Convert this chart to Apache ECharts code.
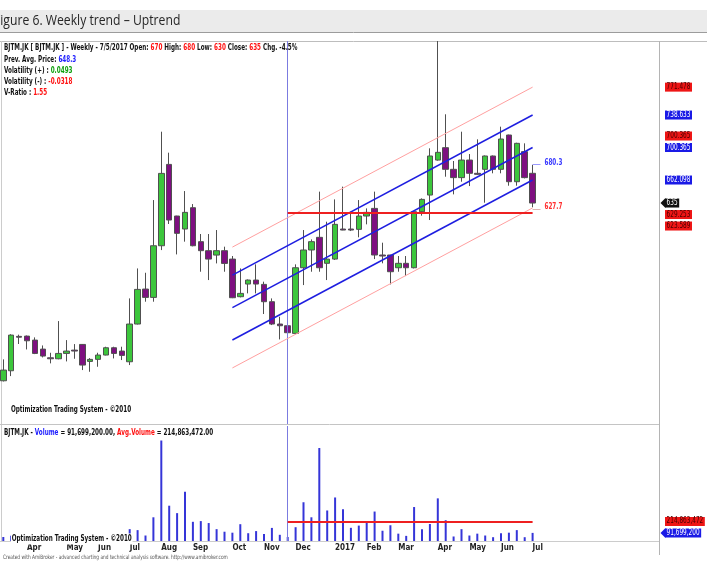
<!DOCTYPE html>
<html><head><meta charset="utf-8">
<script src="https://cdn.jsdelivr.net/npm/echarts@6/dist/echarts.min.js"></script>
<style>html,body{margin:0;padding:0;background:#fff;}#c{width:707px;height:561px;}</style>
</head><body><div id="c"></div>
<script>
// ---------------- data ----------------
const dates = ['2016-03-11','2016-03-18','2016-03-24','2016-04-01','2016-04-08','2016-04-15','2016-04-22','2016-04-29','2016-05-04','2016-05-13','2016-05-20','2016-05-27','2016-06-03','2016-06-10','2016-06-17','2016-06-24','2016-07-01','2016-07-15','2016-07-22','2016-07-29','2016-08-05','2016-08-12','2016-08-19','2016-08-26','2016-09-02','2016-09-09','2016-09-16','2016-09-23','2016-09-30','2016-10-07','2016-10-14','2016-10-21','2016-10-28','2016-11-04','2016-11-11','2016-11-18','2016-11-25','2016-12-02','2016-12-09','2016-12-16','2016-12-23','2016-12-30','2017-01-06','2017-01-13','2017-01-20','2017-01-27','2017-02-03','2017-02-10','2017-02-17','2017-02-24','2017-03-03','2017-03-10','2017-03-17','2017-03-24','2017-03-31','2017-04-07','2017-04-13','2017-04-21','2017-04-28','2017-05-05','2017-05-12','2017-05-19','2017-05-26','2017-06-02','2017-06-09','2017-06-16','2017-06-23','2017-07-05'];
const opens  = [425.7,437.5,478,478.3,473.6,463.0,452.8,451.6,457.9,461.8,468.5,448.5,450.9,456.0,464.6,460.7,448.1,492.5,533.7,523.9,584.7,680.5,619.7,604.4,629.5,589.5,578.9,573.7,578.9,569.0,524.7,539.6,544.3,539.2,518.8,492.5,490.5,481.5,558.8,579.7,594.6,564.0,569.0,604.4,604.4,604.0,619.7,628.7,573.8,573.8,558.8,564.0,558.8,624.8,644.4,685.6,700.2,674.7,664.9,685.6,670.0,674.7,690.4,674.7,715.1,660.1,695.5,670];
const closes = [438.3,479.5,477,472.8,457.9,454.8,451.6,457.9,460.7,460.7,444.2,450.9,456.0,464.6,457.9,455.6,492.5,533.3,523.9,584.7,669.9,615.0,599.3,624.0,584.7,578.9,569.0,578.9,563.9,523.5,528.6,544.3,539.6,518.8,492.5,490.5,482.3,558.8,579.7,589.5,558.8,569.0,609.9,603.2,603.2,619.7,624.0,573.8,572.6,554.1,564.0,558.8,624.8,639.3,690.4,694.7,674.7,664.9,685.6,670.0,668.8,690.4,674.7,710.4,660.1,705.3,664.9,635];
const lows   = [424.9,431.2,469,462.6,457.1,453.2,446.2,451,448.5,451.6,438.3,436.3,442.2,455.6,452.0,450.1,444.2,492,518.8,518.8,579.6,610.3,574.5,589.5,584,554.1,544.3,563.9,554.1,523,523.9,528.6,528.6,504.3,491.3,474.4,473.6,480.7,538.4,554.1,554.1,544.3,567.9,603,602,594.6,609.9,569.0,564.0,539.2,554.1,549.0,558,620.1,615.0,684.9,666.0,645.2,660.1,655.0,668,635.4,670.0,670.0,655.4,655.4,664,630];
const highs  = [450.9,480.5,480,479,476.8,467.3,458.7,496.0,473.6,468.9,469,452.4,458.7,465.8,465.8,465.8,522.7,558.0,552.9,638.5,719.0,694.3,620,649.1,633.8,598.5,598.5,603.2,583.6,572.6,558.0,545,562.8,542.4,522.7,501.1,491,562.8,603.2,592.2,648.4,613.0,639.3,654.3,624.8,638.5,628.7,648.4,588.3,574,572.6,572.6,625,640.5,699.4,825.8,739.5,684.5,719.0,692.7,710.0,691,691,724.9,715.5,706,705.3,680];
// weekly volume, millions of shares
const volumeM = [45,60,35,40,55,30,25,70,40,30,65,35,40,45,30,35,134,123,62,268,1136,399,315,558,217,225,203,134,105,94,190,88,112,80,148,70,45,156,438,268,1051,345,492,359,149,174,221,333,116,178,83,58,384,134,192,482,235,51,134,62,83,62,43,87,94,123,43,91.6992];
const avgVolume = 214863472;
const avgPrice = 623.589;
const rangeStart = 36;           // start of the selected range (vertical line)
const channelStart = 29;         // first bar of the regression channel
const lastBar = dates.length - 1;
// regression channel [value at channelStart, value at lastBar]
const pinkUpper = [583.1, 771.478];
const blueUpper = [550.2, 738.633];
const midLine   = [511.9, 700.365];
const blueLower = [473.7, 662.098];
const pinkLower = [440.8, 629.253];
const levelUp = 680.3, levelDown = 627.7;
const prevAvgPrice = 648.3, volPlus = '0.0493', volMinus = '-0.0318', vRatio = '1.55';
const monthNames = ['Jan','Feb','Mar','Apr','May','Jun','Jul','Aug','Sep','Oct','Nov','Dec'];
const padCount = 16;

// ---------------- derived ----------------
const cats = dates.concat(Array.from({length: padCount}, (_, i) => 'pad' + i));
const monthLabel = cats.map((d, i) => {
  if (i === 0 || i >= dates.length) return '';
  const m = +d.slice(5, 7), pm = +dates[i - 1].slice(5, 7);
  if (m === pm) return '';
  return m === 1 ? d.slice(0, 4) : monthNames[m - 1];
});
const candleData = opens.map((o, i) => [o, closes[i], lows[i], highs[i]]);
const volData = volumeM.map(v => v * 1e6);
const NARROW = '"Liberation Sans Narrow","DejaVu Sans Condensed","Liberation Sans",sans-serif';
const fmtInt = v => Math.round(v).toLocaleString('en-US');
const fmt2 = v => v.toLocaleString('en-US', {minimumFractionDigits: 2, maximumFractionDigits: 2});
const lastDate = dates[lastBar];
const lastDateTxt = (+lastDate.slice(5,7)) + '/' + (+lastDate.slice(8,10)) + '/' + lastDate.slice(0,4);
const chg = ((closes[lastBar] - closes[lastBar - 1]) / closes[lastBar - 1] * 100).toFixed(1);
const SX = 0.74; // horizontal squeeze to imitate a narrow typeface

const labelStyles = {
  red:  {bg: '#ee1515', fg: '#4a0000'},
  blue: {bg: '#1a1ae6', fg: '#ffffff'},
  tag:  {bg: '#111111', fg: '#ffffff', arrow: true},
  blueTag: {bg: '#1a1ae6', fg: '#ffffff', arrow: true}
};
const priceLabels = [
  {v: pinkUpper[1], type: 'red',  text: pinkUpper[1].toFixed(3)},
  {v: blueUpper[1], type: 'blue', text: blueUpper[1].toFixed(3)},
  {v: midLine[1],   type: 'blue', text: midLine[1].toFixed(3)},
  {v: midLine[1],   type: 'red',  text: midLine[1].toFixed(3)},
  {v: blueLower[1], type: 'blue', text: blueLower[1].toFixed(3)},
  {v: closes[lastBar], type: 'tag', text: String(closes[lastBar])},
  {v: pinkLower[1], type: 'red',  text: pinkLower[1].toFixed(3)},
  {v: avgPrice,     type: 'red',  text: avgPrice.toFixed(3)}
];
const volLabels = [
  {v: avgVolume, type: 'red', text: fmtInt(avgVolume)},
  {v: volData[lastBar], type: 'blueTag', text: fmtInt(volData[lastBar])}
];
const levelLabels = [
  {v: levelUp, color: '#3a3aff', text: String(levelUp)},
  {v: levelDown, color: '#ff3030', text: String(levelDown)}
];

function layoutLabels(items, api) {
  const H = 11.5;
  const nat = items.map(it => api.coord([lastBar, it.v])[1]);
  const ys = nat.slice();
  const ai = items.findIndex(it => it.type === 'tag' || it.type === 'blueTag');
  const av = items[ai].v;
  const above = items.map((it, i) => i).filter(i => i !== ai && items[i].v >= av)
    .sort((a, b) => items[a].v - items[b].v || a - b);
  const below = items.map((it, i) => i).filter(i => i !== ai && items[i].v < av)
    .sort((a, b) => items[b].v - items[a].v || a - b);
  let prev = nat[ai];
  above.forEach(i => { ys[i] = Math.min(nat[i], prev - H); prev = ys[i]; });
  prev = nat[ai];
  below.forEach(i => { ys[i] = Math.max(nat[i], prev + H); prev = ys[i]; });
  return ys;
}
function labelRenderer(items) {
  return function (params, api) {
    const ys = layoutLabels(items, api);
    const it = items[params.dataIndex];
    const st = labelStyles[it.type];
    const y = ys[params.dataIndex];
    const x0 = params.coordSys.x + params.coordSys.width;
    const ch = [];
    if (st.arrow) ch.push({type: 'polygon', shape: {points: [[x0 + 1.5, y], [x0 + 6.5, y - 5], [x0 + 6.5, y + 5]]}, style: {fill: st.bg}});
    ch.push({type: 'text', x: x0 + 6, y: y, scaleX: 0.8, style: {text: it.text, x: 0, y: 0, fill: st.fg, backgroundColor: st.bg,
      padding: [1, 2, 0, 2], font: '8px ' + NARROW, verticalAlign: 'middle', align: 'left'}});
    return {type: 'group', children: ch};
  };
}
function levelRenderer(params, api) {
  const it = levelLabels[params.dataIndex];
  const p = api.coord([lastBar + 1, it.v]);
  return {type: 'text', x: p[0] + 4, y: p[1] - 2, scaleX: SX,
    style: {text: it.text, x: 0, y: 0, fill: it.color, font: 'bold 8.5px ' + NARROW, verticalAlign: 'middle', align: 'left'}};
}

const chan = (arr, color, w) => [
  {coord: [channelStart, arr[0]], lineStyle: {color: color, width: w, type: 'solid'}},
  {coord: [lastBar, arr[1]]}
];
const vLine = {xAxis: dates[rangeStart], lineStyle: {color: '#7b7be0', width: 1, type: 'solid'}};

const boldNarrow = 'bold 8.5px ' + NARROW;
const headerRich = {
  k: {fill: '#111', font: boldNarrow},
  r: {fill: '#ff1010', font: boldNarrow},
  b: {fill: '#2020ff', font: boldNarrow},
  g: {fill: '#10a010', font: boldNarrow}
};
const header1 = '{k|BJTM.JK [ BJTM.JK ] - Weekly - ' + lastDateTxt + ' Open: }{r|' + opens[lastBar] +
  '}{k| High: }{r|' + highs[lastBar] + '}{k| Low: }{r|' + lows[lastBar] + '}{k| Close: }{r|' + closes[lastBar] +
  '}{k| Chg. ' + chg + '%}';
const hdr = (y, text) => ({type: 'text', x: 4, y: y, scaleX: SX, style: {text: text, rich: headerRich, verticalAlign: 'middle'}, silent: true, z: 50});

const option = {
  animation: false,
  backgroundColor: '#fff',
  grid: [
    {left: 3.3, right: 48, top: 41, height: 383},
    {left: 3.3, right: 48, top: 426, height: 115}
  ],
  xAxis: [
    {type: 'category', gridIndex: 0, data: cats, boundaryGap: false,
      axisLine: {show: false}, axisTick: {show: false}, axisLabel: {show: false}, splitLine: {show: false}},
    {type: 'category', gridIndex: 1, data: cats, boundaryGap: false,
      axisLine: {show: false}, axisTick: {show: false}, splitLine: {show: false},
      axisLabel: {interval: 0, align: 'left', margin: 3, color: '#222', fontSize: 8, fontWeight: 'bold', fontFamily: NARROW,
        formatter: (v, i) => monthLabel[i]}}
  ],
  yAxis: [
    {type: 'value', gridIndex: 0, min: 374.8, max: 825.8, show: false, splitLine: {show: false}},
    {type: 'value', gridIndex: 1, min: 0, max: 1300e6, show: false, splitLine: {show: false}}
  ],
  series: [
    {
      type: 'candlestick', xAxisIndex: 0, yAxisIndex: 0, data: candleData, barWidth: 6, clip: false,
      itemStyle: {color: '#3cc63c', color0: '#7e0f80', borderColor: '#505050', borderColor0: '#505050', borderWidth: 1},
      markLine: {
        symbol: ['none', 'none'], silent: true, animation: false, label: {show: false},
        data: [
          vLine,
          chan(pinkUpper, '#ffa0a0', 1),
          chan(pinkLower, '#ffa0a0', 1),
          chan(blueUpper, '#1e1ee0', 1.5),
          chan(midLine, '#1e1ee0', 1.5),
          chan(blueLower, '#1e1ee0', 1.5),
          [{coord: [rangeStart, avgPrice], lineStyle: {color: '#ee2020', width: 2, type: 'solid'}}, {coord: [lastBar, avgPrice]}],
          [{coord: [lastBar, levelUp], lineStyle: {color: '#9a9aff', width: 1, type: 'solid'}}, {coord: [lastBar + 1, levelUp]}],
          [{coord: [lastBar, levelDown], lineStyle: {color: '#e0b0b0', width: 1, type: 'solid'}}, {coord: [lastBar + 1, levelDown]}]
        ]
      }
    },
    {
      type: 'bar', xAxisIndex: 1, yAxisIndex: 1, data: volData, barWidth: 2, clip: false,
      itemStyle: {color: '#3535d8'},
      markLine: {
        symbol: ['none', 'none'], silent: true, animation: false, label: {show: false},
        data: [
          vLine,
          [{coord: [rangeStart, avgVolume], lineStyle: {color: '#ee2020', width: 2, type: 'solid'}}, {coord: [lastBar, avgVolume]}]
        ]
      }
    },
    {
      type: 'custom', xAxisIndex: 0, yAxisIndex: 0, clip: false, silent: true, z: 10,
      data: priceLabels.map(l => [lastBar, l.v]),
      renderItem: labelRenderer(priceLabels)
    },
    {
      type: 'custom', xAxisIndex: 1, yAxisIndex: 1, clip: false, silent: true, z: 10,
      data: volLabels.map(l => [lastBar, l.v]),
      renderItem: labelRenderer(volLabels)
    },
    {
      type: 'custom', xAxisIndex: 0, yAxisIndex: 0, clip: false, silent: true, z: 10,
      data: levelLabels.map(l => [lastBar + 1, l.v]),
      renderItem: levelRenderer
    }
  ],
  graphic: [
    {type: 'rect', shape: {x: 0, y: 10, width: 707, height: 22}, style: {fill: '#ebebeb'}, silent: true},
    {type: 'line', shape: {x1: 0, y1: 32.5, x2: 707, y2: 32.5}, style: {stroke: '#9c9c9c', lineWidth: 1}, silent: true},
    {type: 'text', x: -6, y: 21.5, scaleX: 0.87, style: {text: 'Figure 6. Weekly trend \u2013 Uptrend', font: '14px "Open Sans"', fill: '#262626', verticalAlign: 'middle'}, silent: true},
    {type: 'line', shape: {x1: 0, y1: 41.5, x2: 707, y2: 41.5}, style: {stroke: '#bdbdbd', lineWidth: 1}, silent: true},
    {type: 'line', shape: {x1: 1.5, y1: 41, x2: 1.5, y2: 541}, style: {stroke: '#cccccc', lineWidth: 1}, silent: true},
    {type: 'line', shape: {x1: 0, y1: 424.5, x2: 659, y2: 424.5}, style: {stroke: '#c4c4c4', lineWidth: 1}, silent: true},
    {type: 'line', shape: {x1: 0, y1: 541.5, x2: 659, y2: 541.5}, style: {stroke: '#cccccc', lineWidth: 1}, silent: true},
    {type: 'line', shape: {x1: 659.5, y1: 41, x2: 659.5, y2: 555}, style: {stroke: '#b4b4b4', lineWidth: 1}, silent: true},
    hdr(48, header1),
    hdr(60, '{k|Prev. Avg. Price: }{b|' + prevAvgPrice + '}'),
    hdr(71, '{k|Volatility (+) : }{g|' + volPlus + '}'),
    hdr(82, '{k|Volatility (-) : }{r|' + volMinus + '}'),
    hdr(93, '{k|V-Ratio : }{r|' + vRatio + '}'),
    {type: 'text', x: 11, y: 409.5, scaleX: SX, style: {text: 'Optimization Trading System - \u00a92010', font: boldNarrow, fill: '#111', verticalAlign: 'middle'}, silent: true, z: 50},
    hdr(432.5, '{k|BJTM.JK - }{b|Volume}{k| = ' + fmt2(volData[lastBar]) + ', }{r|Avg.Volume}{k| = ' + fmt2(avgVolume) + '}'),
    {type: 'text', x: 11, y: 539, scaleX: SX, style: {text: 'Optimization Trading System - \u00a92010', font: boldNarrow, fill: '#111', verticalAlign: 'middle', backgroundColor: '#fff', padding: [1, 1, 1, 1]}, silent: true, z: 50},
    {type: 'text', x: 3, y: 557, scaleX: 0.8, style: {text: 'Created with AmiBroker - advanced charting and technical analysis software. http://www.amibroker.com', font: '6px ' + NARROW, fill: '#555', verticalAlign: 'middle'}, silent: true, z: 50}
  ]
};
const chart = echarts.init(document.getElementById('c'), null, {renderer: 'canvas'});
chart.setOption(option);
</script>
</body></html>
